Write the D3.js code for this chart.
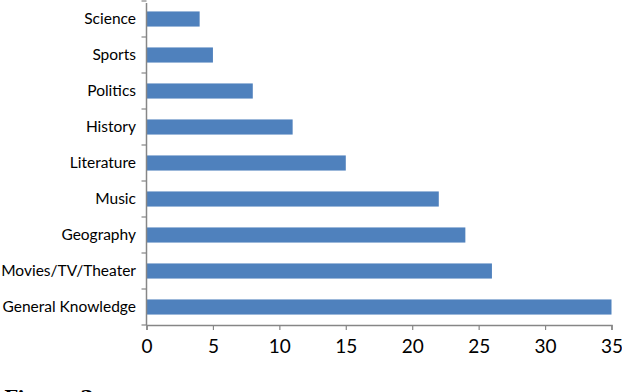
<!DOCTYPE html>
<html>
<head>
<meta charset="utf-8">
<script src="https://cdn.jsdelivr.net/npm/d3@7"></script>
<style>
html,body{margin:0;padding:0;background:#fff;}
svg{display:block;}
</style>
</head>
<body>
<svg id="chart" width="622" height="392"></svg>
<script>
const categories = ["Science","Sports","Politics","History","Literature","Music","Geography","Movies/TV/Theater","General Knowledge"];
const values = [4,5,8,11,15,22,24,26,35];
const xTicks = [0,5,10,15,20,25,30,35];

(function(){
const svg = d3.select("#chart");
const mLeft = 146.5, mRight = 611.5, mTop = 1, mBottom = 325;
const x = d3.scaleLinear().domain([0,35]).range([mLeft,mRight]);
const y = d3.scaleBand().domain(categories).range([mTop,mBottom]).paddingInner(0.58).paddingOuter(0.29);
const yb = d3.scaleBand().domain(categories).range([mTop,mBottom]);

svg.append("g").selectAll("rect").data(categories).join("rect")
  .attr("x", x(0)+0.5)
  .attr("y", d => y(d))
  .attr("width", (d,i) => x(values[i]) - x(0) - 0.5)
  .attr("height", y.bandwidth())
  .attr("fill", "#4F81BD");

const axisColor = "#868686";
const ya = svg.append("g");
ya.append("line").attr("x1",mLeft).attr("x2",mLeft).attr("y1",mTop+2).attr("y2",mBottom)
  .attr("stroke",axisColor).attr("stroke-width",1.5);
const bounds = categories.map(d => yb(d)).concat([mBottom]);
ya.selectAll("line.t").data(bounds).join("line").attr("class","t")
  .attr("x1",mLeft-5).attr("x2",mLeft).attr("y1",d=>d).attr("y2",d=>d)
  .attr("stroke",axisColor).attr("stroke-width",1.2);
ya.selectAll("text").data(categories).join("text")
  .attr("x",136).attr("y",d=>yb(d)+yb.bandwidth()/2+1)
  .attr("text-anchor","end").attr("dominant-baseline","middle")
  .attr("font-family","Lato, 'Open Sans', sans-serif").attr("font-size",15.5)
  .attr("fill","#000").text(d=>d);

const xa = svg.append("g").attr("transform",`translate(0,${mBottom})`)
  .call(d3.axisBottom(x).tickValues(xTicks).tickSize(5).tickPadding(10).tickFormat(d3.format("d")));
xa.select(".domain").attr("stroke",axisColor).attr("stroke-width",1.5);
xa.selectAll(".tick line").attr("stroke",axisColor).attr("stroke-width",1.2);
xa.selectAll(".tick text").attr("font-family","Lato, 'Open Sans', sans-serif").attr("font-size",19).attr("fill","#000");

svg.append("text").attr("x",4).attr("y",404)
  .attr("font-family","'DejaVu Serif', 'Liberation Serif', serif").attr("font-weight","bold")
  .attr("font-size",19).attr("fill","#000").text("Figure 2:");
})();
</script>
</body>
</html>
